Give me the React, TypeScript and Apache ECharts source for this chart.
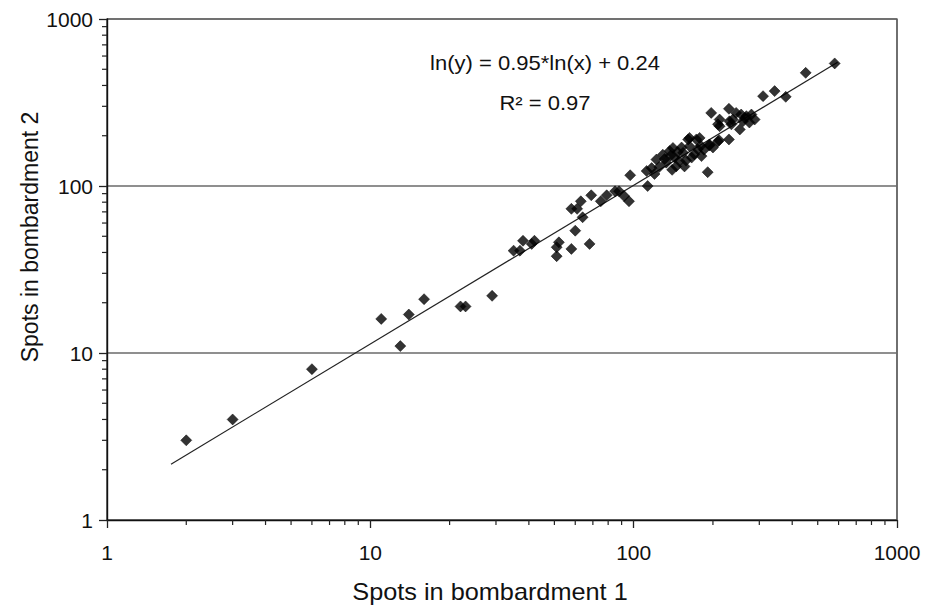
import React, { useEffect, useRef } from "react";
import * as echarts from "echarts";

const spotsB1: number[] = [
  2, 3, 6, 11, 13, 14, 16, 22, 23, 29,
  35, 37, 38, 41, 42, 51, 51, 52, 58, 68,
  60, 64, 58, 61, 63, 69, 75, 79, 85, 88,
  92, 96, 97, 112, 113, 122, 129, 133, 137, 143,
  145, 149, 154, 156, 161, 163, 166, 173, 175, 181,
  194, 209, 230, 212, 231, 253, 260, 141, 163, 178,
  212, 209, 238, 245, 256, 268, 280, 288, 235, 197,
  230, 211, 191, 310, 343, 378, 450, 580, 125, 131,
  140, 147, 152, 158, 170, 185, 120, 138, 200, 265,
  275, 180, 194, 117,
];
const spotsB2: number[] = [
  3, 4, 8, 16, 11, 17, 21, 19, 19, 22,
  41, 41, 47, 45, 47, 38, 43, 46, 42, 45,
  54, 65, 73, 73, 81, 88, 81, 88, 93, 93,
  87, 81, 116, 123, 100, 144, 154, 138, 162, 148,
  131, 141, 158, 131, 190, 173, 148, 190, 166, 151,
  177, 185, 190, 228, 244, 218, 244, 169, 194, 194,
  250, 234, 250, 274, 268, 262, 268, 250, 234, 274,
  290, 188, 121, 345, 370, 342, 476, 542, 130, 145,
  125, 160, 170, 142, 155, 165, 118, 152, 170, 255,
  240, 174, 175, 128,
];

const trendX: number[] = [1.75, 595];
const trendY: number[] = [2.16, 550];

const xTickLabels: string[] = ["1", "10", "100", "1000"];
const yTickLabels: string[] = ["1", "10", "100", "1000"];
const minorTickValues: number[] = [
  2, 3, 4, 5, 6, 7, 8, 9,
  20, 30, 40, 50, 60, 70, 80, 90,
  200, 300, 400, 500, 600, 700, 800, 900,
];

const equationText = "ln(y) = 0.95*ln(x) + 0.24";
const r2Text = "R² = 0.97";
const xTitle = "Spots in bombardment 1";
const yTitle = "Spots in bombardment 2";

const FONT = "Liberation Sans, Arial, sans-serif";
const INK = "#111111";
const TICK = "#222222";

function labelFor(list: string[], v: number) {
  const idx = Math.round(Math.log10(v));
  return list[idx] ?? "";
}

export default function App() {
  const ref = useRef<HTMLDivElement>(null);
  useEffect(() => {
    if (!ref.current) return;
    const chart = echarts.init(ref.current, null, { renderer: "svg" });
    const points = spotsB1.map((x, i) => [x, spotsB2[i]]);
    const trend = trendX.map((x, i) => [x, trendY[i]]);
    chart.setOption({
      animation: false,
      backgroundColor: "#ffffff",
      grid: {
        left: 107,
        right: 28,
        top: 19,
        bottom: 91,
        show: true,
        borderColor: INK,
        borderWidth: 1.2,
        backgroundColor: "transparent",
      },
      xAxis: {
        type: "log",
        logBase: 10,
        min: 1,
        max: 1000,
        axisLine: { show: true, lineStyle: { color: INK, width: 1.4 } },
        axisTick: { show: true, length: 8, lineStyle: { color: TICK, width: 1.3 } },
        axisLabel: {
          margin: 22,
          fontSize: 21,
          color: INK,
          fontFamily: FONT,
          formatter: (v: number) => labelFor(xTickLabels, v),
        },
        splitLine: { show: false },
      },
      yAxis: {
        type: "log",
        logBase: 10,
        min: 1,
        max: 1000,
        axisLine: { show: true, lineStyle: { color: INK, width: 1.4 } },
        axisTick: { show: true, length: 8, lineStyle: { color: TICK, width: 1.3 } },
        axisLabel: {
          margin: 14,
          fontSize: 21,
          color: INK,
          fontFamily: FONT,
          formatter: (v: number) => labelFor(yTickLabels, v),
        },
        splitLine: { show: true, lineStyle: { color: "#6a6a6a", width: 1.6 } },
      },
      series: [
        {
          type: "custom",
          silent: true,
          clip: false,
          z: 5,
          data: minorTickValues.map((v) => [v, 1]),
          renderItem: (params: any, api: any) => {
            const p = api.coord([api.value(0), 1]);
            return {
              type: "line",
              shape: { x1: p[0], y1: p[1], x2: p[0], y2: p[1] + 5 },
              style: { stroke: TICK, lineWidth: 1.2 },
            };
          },
        },
        {
          type: "custom",
          silent: true,
          clip: false,
          z: 5,
          data: minorTickValues.map((v) => [1, v]),
          renderItem: (params: any, api: any) => {
            const p = api.coord([1, api.value(1)]);
            return {
              type: "line",
              shape: { x1: p[0] - 5, y1: p[1], x2: p[0], y2: p[1] },
              style: { stroke: TICK, lineWidth: 1.2 },
            };
          },
        },
        {
          type: "line",
          data: trend,
          showSymbol: false,
          symbol: "none",
          lineStyle: { color: "#222222", width: 1.2 },
          silent: true,
          z: 2,
        },
        {
          type: "scatter",
          data: points,
          symbol: "diamond",
          symbolSize: 11,
          itemStyle: { color: "#000000", borderColor: "#000000", borderWidth: 0.6 },
          z: 3,
        },
      ],
      graphic: [
        {
          type: "text",
          x: 545,
          y: 63,
          scaleX: 1.1,
          style: {
            text: equationText,
            fontSize: 20,
            fill: INK,
            fontFamily: FONT,
            align: "center",
            verticalAlign: "middle",
          },
        },
        {
          type: "text",
          x: 545,
          y: 103,
          scaleX: 1.1,
          style: {
            text: r2Text,
            fontSize: 20,
            fill: INK,
            fontFamily: FONT,
            align: "center",
            verticalAlign: "middle",
          },
        },
        {
          type: "text",
          x: 490,
          y: 592,
          scaleX: 1.1,
          style: {
            text: xTitle,
            fontSize: 23,
            fill: INK,
            fontFamily: FONT,
            align: "center",
            verticalAlign: "middle",
          },
        },
        {
          type: "text",
          x: 30,
          y: 237,
          rotation: Math.PI / 2,
          style: {
            text: yTitle,
            fontSize: 23,
            fill: INK,
            fontFamily: FONT,
            align: "center",
            verticalAlign: "middle",
          },
        },
      ],
    });
    return () => chart.dispose();
  }, []);
  return (
    <div
      ref={ref}
      style={{ position: "absolute", left: 0, top: 0, width: 925, height: 611 }}
    />
  );
}
